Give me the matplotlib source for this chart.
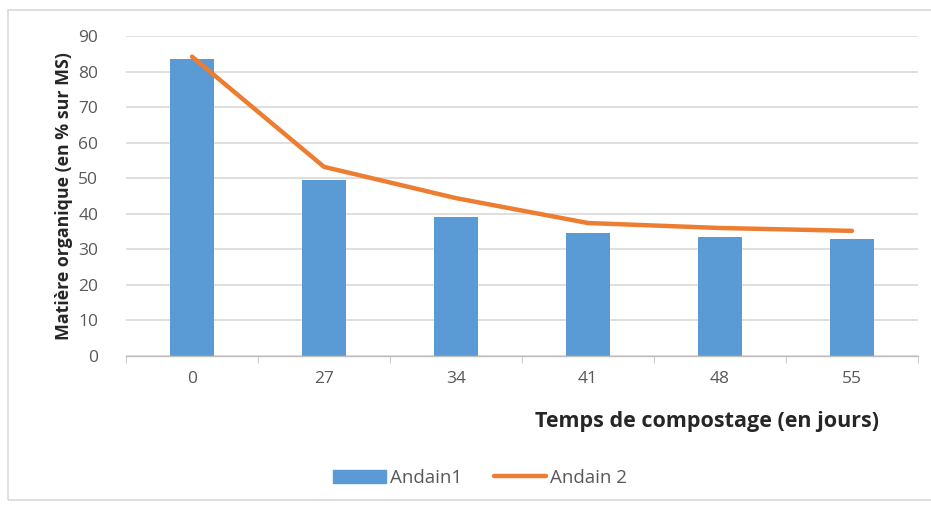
import numpy as np
import matplotlib.pyplot as plt
from matplotlib.lines import Line2D
from matplotlib.patches import Rectangle

# data
jours = ['0', '27', '34', '41', '48', '55']
andain1 = [83.5, 49.5, 39.0, 34.6, 33.4, 32.8]
andain2 = [84.2, 53.2, 44.4, 37.4, 36.0, 35.2]

bar_color = '#5B9BD5'
line_color = '#ED7D31'
text_gray = '#595959'

plt.rcParams['font.family'] = ['Open Sans', 'DejaVu Sans']

fig = plt.figure(figsize=(9.31, 5.05), dpi=100)
ax = fig.add_axes([126 / 931, 1 - 356 / 505, (918 - 126) / 931, (356 - 36) / 505])

x = np.arange(len(jours))
ax.bar(x, andain1, width=0.33, color=bar_color, zorder=2, label='Andain1')
ax.plot(x, andain2, color=line_color, lw=3.2, solid_capstyle='round', zorder=3, label='Andain 2')

ax.set_xlim(-0.5, len(jours) - 0.5)
ax.set_ylim(0, 90)
ax.set_yticks(np.arange(0, 91, 10))
ax.set_xticks(x)
ax.set_xticklabels(jours)
ax.set_xticks(np.arange(-0.5, len(jours), 1), minor=True)

ax.grid(axis='y', color='#D9D9D9', lw=1.2, zorder=0)
for s in ['top', 'right', 'left']:
    ax.spines[s].set_visible(False)
ax.spines['bottom'].set_color('#BFBFBF')
ax.spines['bottom'].set_linewidth(1.0)

ax.tick_params(axis='y', length=0, pad=20, labelsize=12.5, labelcolor=text_gray)
ax.tick_params(axis='x', which='major', length=0, pad=11, labelsize=12.5, labelcolor=text_gray)
ax.tick_params(axis='x', which='minor', length=5, color='#BFBFBF')

ax.set_ylabel('Matière organique (en % sur MS)', fontsize=12.8, fontweight='bold', color='#262626', labelpad=4)
fig.text(879 / 931, 1 - 422 / 505, 'Temps de compostage (en jours)', ha='right', va='center',
         fontsize=15.5, fontweight='bold', color='#262626')

handles = [
    Rectangle((0, 0), 1, 1, color=bar_color),
    Line2D([0], [0], color=line_color, lw=3.2, solid_capstyle='round'),
]
fig.legend(handles, ['Andain1', 'Andain 2'], loc='center', bbox_to_anchor=(480 / 931, 1 - 478 / 505),
           ncol=2, frameon=False, fontsize=13.5, labelcolor=text_gray, handlelength=2.8,
           handletextpad=0.2, columnspacing=1.7)

# outer chart frame
fig.patches.append(Rectangle((8 / 931, 1 - 500 / 505), 930 / 931, 490 / 505,
                             transform=fig.transFigure, fill=False, ec='#D9D9D9', lw=1.2))

fig.savefig('out.png', dpi=100)
